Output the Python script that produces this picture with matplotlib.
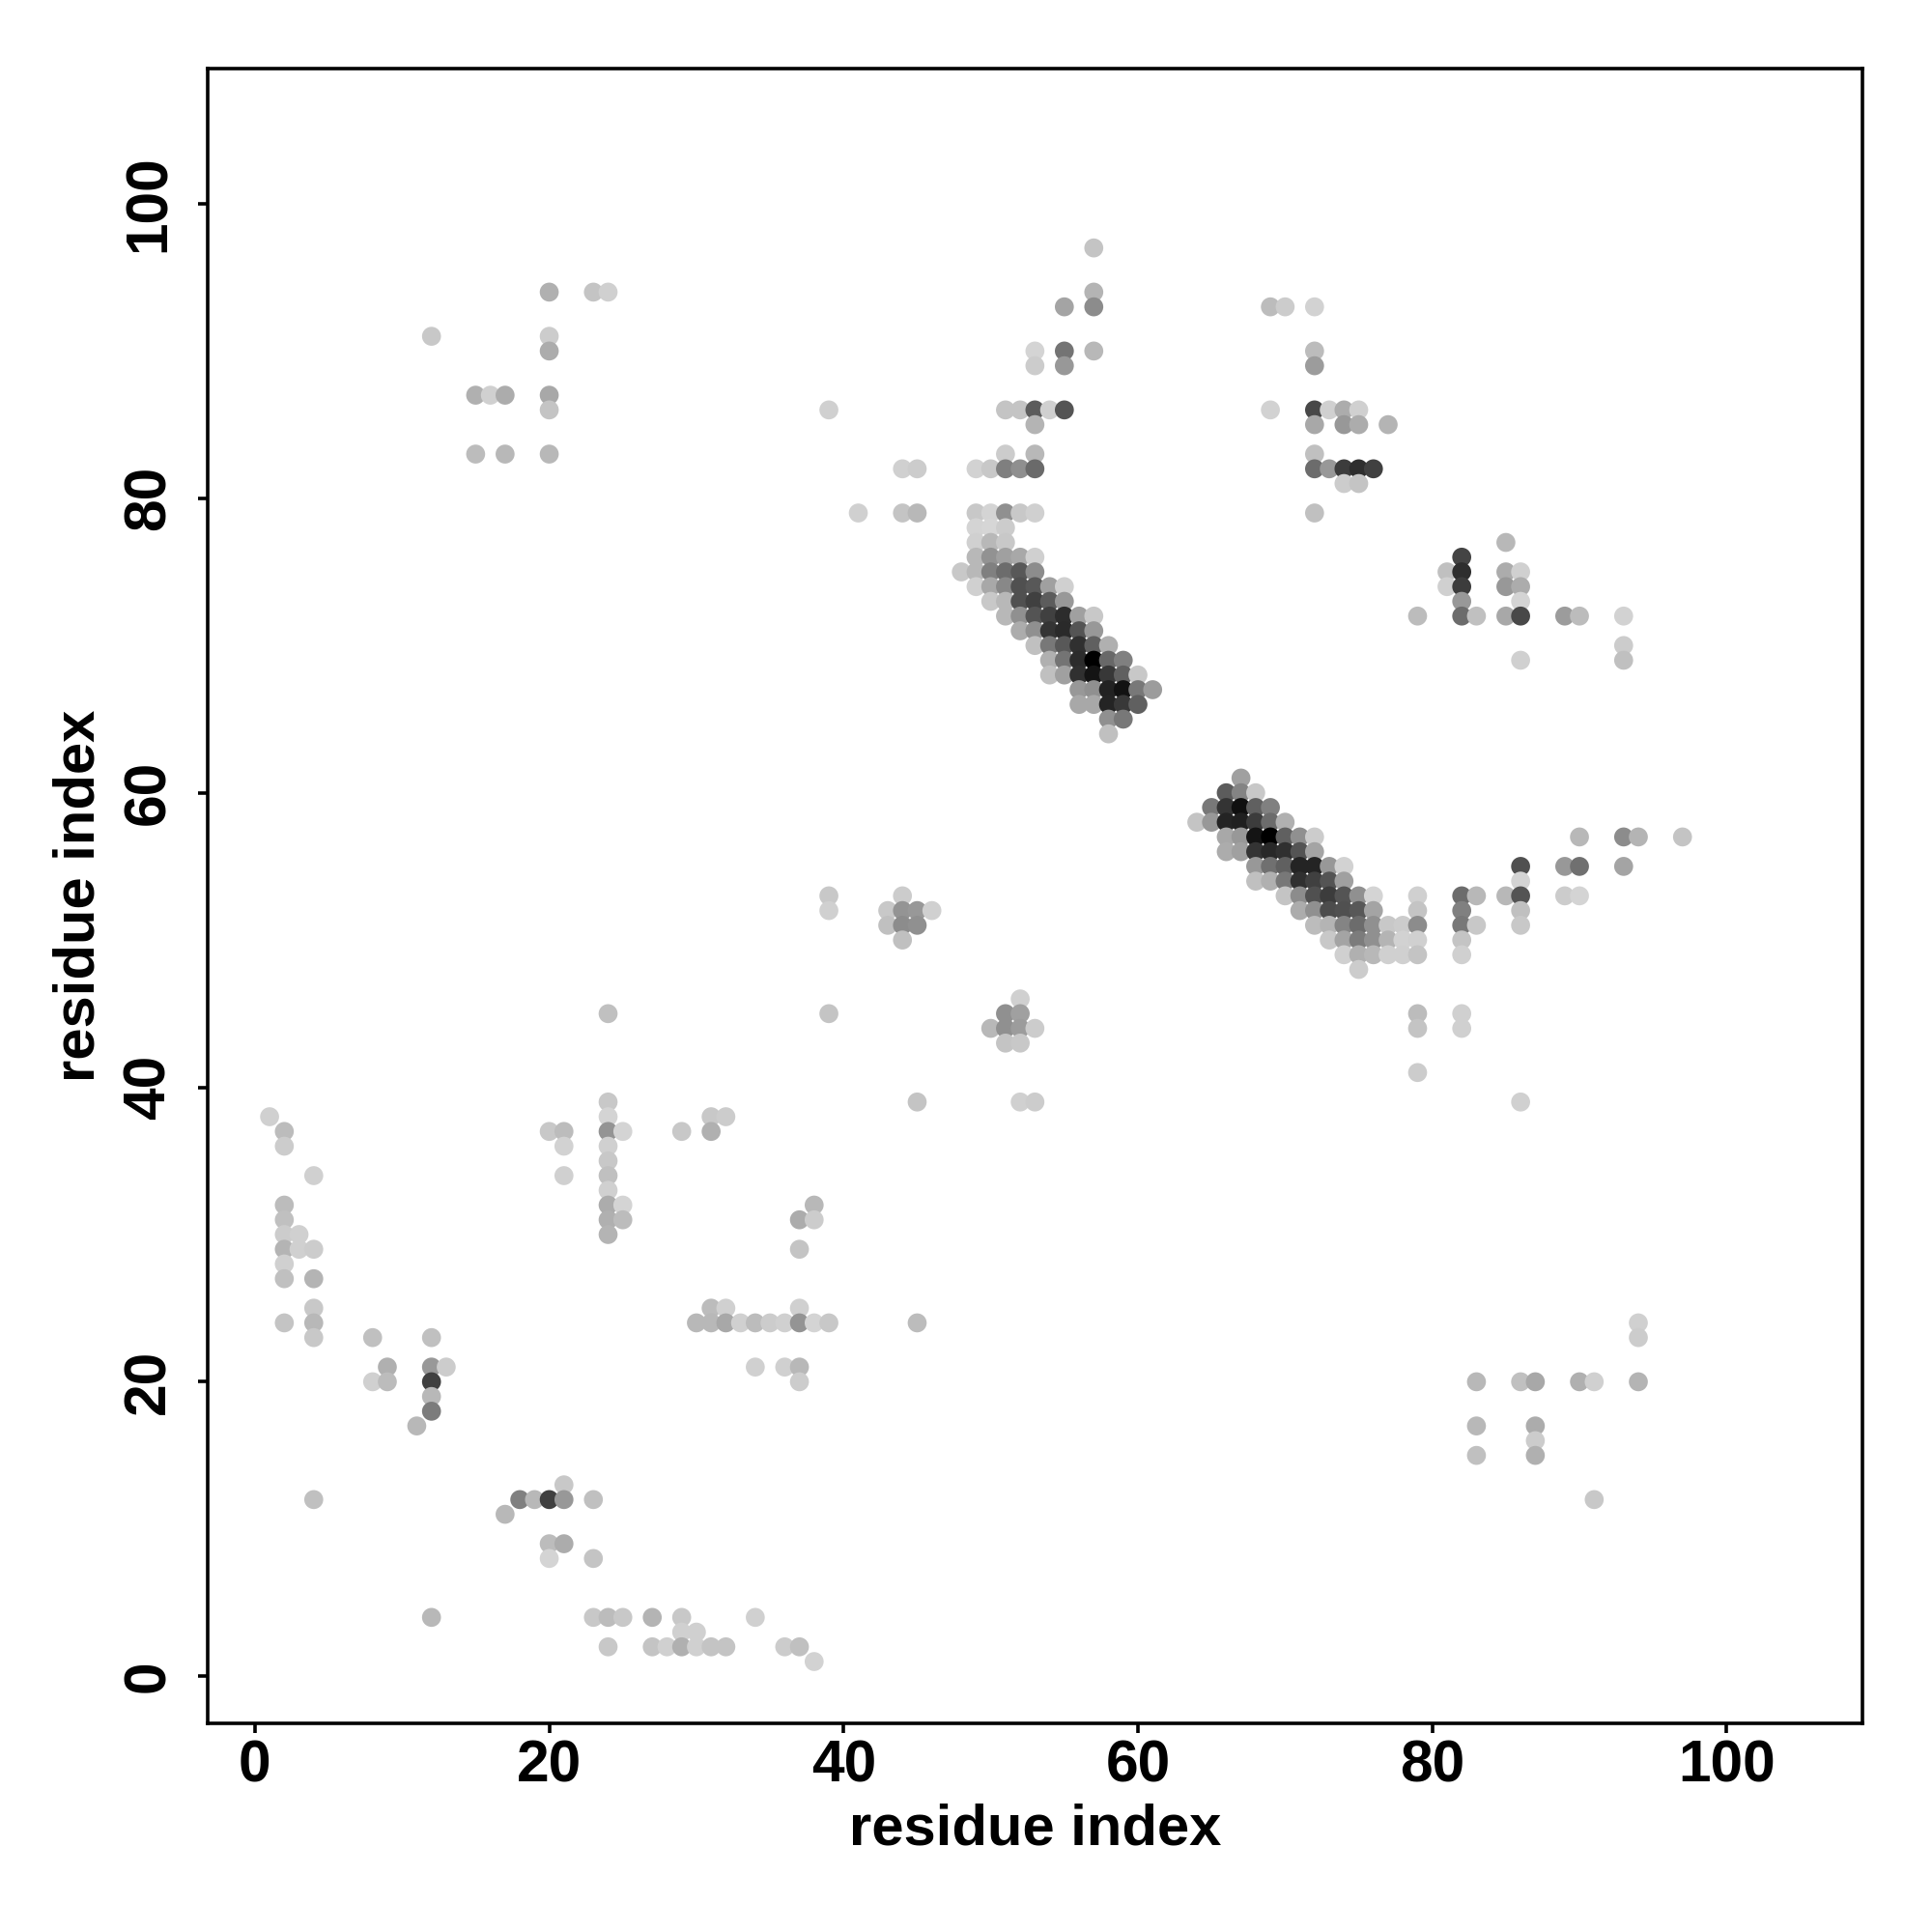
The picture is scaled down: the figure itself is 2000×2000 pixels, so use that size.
import numpy as np
import matplotlib
matplotlib.use('Agg')
import matplotlib.pyplot as plt

tick_values = [0, 20, 40, 60, 80, 100]
axis_label = 'residue index'

# one entry per row of the contact map, top to bottom
row_index = [97, 94, 93, 91, 90, 89, 87, 86, 85, 83, 82, 81, 79, 78, 77, 76, 75, 74, 73, 72,
             71, 70, 69, 68, 67, 66, 65, 64, 61, 60, 59, 58, 57, 56, 55, 54, 53, 52, 51, 50,
             49, 48, 46, 45, 44, 43, 41, 39, 38, 37, 36, 35, 34, 33, 32, 31, 30, 29, 28, 27,
             25, 24, 23, 21, 20, 19, 18, 17, 16, 15, 13, 12, 11, 9, 8, 4, 3, 2, 1]

col_index = [
    [57],
    [20, 23, 24, 57],
    [55, 57, 69, 70, 72],
    [12, 20],
    [20, 53, 55, 57, 72],
    [53, 55, 72],
    [15, 16, 17, 20],
    [20, 39, 51, 52, 53, 54, 55, 69, 72, 73, 74, 75],
    [53, 72, 74, 75, 77],
    [15, 17, 20, 51, 53, 72],
    [44, 45, 49, 50, 51, 52, 53, 72, 73, 74, 75, 76],
    [74, 75],
    [41, 44, 45, 49, 50, 51, 52, 53, 72],
    [49, 50, 51],
    [49, 50, 51, 85],
    [49, 50, 51, 52, 53, 82],
    [48, 49, 50, 51, 52, 53, 81, 82, 85, 86],
    [49, 50, 51, 52, 53, 54, 55, 81, 82, 85, 86],
    [50, 51, 52, 53, 54, 55, 82, 86],
    [51, 52, 53, 54, 55, 56, 57, 79, 82, 83, 85, 86, 89, 90, 93],
    [52, 53, 54, 55, 56, 57],
    [53, 54, 55, 56, 57, 58, 93],
    [54, 55, 56, 57, 58, 59, 86, 93],
    [54, 55, 56, 57, 58, 59, 60],
    [56, 57, 58, 59, 60, 61],
    [56, 57, 58, 59, 60],
    [58, 59],
    [58],
    [67],
    [66, 67, 68],
    [65, 66, 67, 68, 69],
    [64, 65, 66, 67, 68, 69, 70],
    [66, 67, 68, 69, 70, 71, 72, 90, 93, 94, 97],
    [66, 67, 68, 69, 70, 71, 72],
    [68, 69, 70, 71, 72, 73, 74, 86, 89, 90, 93],
    [68, 69, 70, 71, 72, 73, 74, 86],
    [39, 44, 70, 71, 72, 73, 74, 75, 76, 79, 82, 83, 85, 86, 89, 90],
    [39, 43, 44, 45, 46, 71, 72, 73, 74, 75, 76, 79, 82, 86],
    [43, 44, 45, 72, 73, 74, 75, 76, 77, 78, 79, 82, 83, 86],
    [44, 73, 74, 75, 76, 77, 78, 79, 82],
    [74, 75, 76, 77, 78, 79, 82],
    [75],
    [52],
    [24, 39, 51, 52, 79, 82],
    [50, 51, 52, 53, 79, 82],
    [51, 52],
    [79],
    [24, 45, 52, 53, 86],
    [1, 24, 31, 32],
    [2, 20, 21, 24, 25, 29, 31],
    [2, 21, 24],
    [24],
    [4, 21, 24],
    [24],
    [2, 24, 25, 38],
    [2, 24, 25, 37, 38],
    [2, 3, 24],
    [2, 3, 4, 37],
    [2],
    [2, 4],
    [4, 31, 32, 37],
    [2, 4, 30, 31, 32, 33, 34, 35, 36, 37, 38, 39, 45, 94],
    [4, 8, 12, 94],
    [9, 12, 13, 34, 36, 37],
    [8, 9, 12, 37, 83, 86, 87, 90, 91, 94],
    [12],
    [12],
    [11, 83, 87],
    [87],
    [83, 87],
    [21],
    [4, 18, 19, 20, 21, 23, 91],
    [17],
    [20, 21],
    [20, 23],
    [12, 23, 24, 25, 27, 29, 34],
    [29, 30],
    [24, 27, 28, 29, 30, 31, 32, 36, 37],
    [38],
]

# grey level of every point, 0 black to 255 white
grey_level = [
    [0xc4],
    [0xb0, 0xc4, 0xd0, 0xb4],
    [0xa4, 0x8c, 0xbc, 0xcc, 0xd2],
    [0xc8, 0xcc],
    [0xac, 0xd4, 0x74, 0xb8, 0xbc],
    [0xcc, 0x98, 0x9c],
    [0xb0, 0xd0, 0xac, 0xa8],
    [0xc4, 0xd0, 0xc4, 0xc4, 0x5c, 0xd0, 0x54, 0xd2, 0x48, 0xd0, 0xac, 0xd0],
    [0xb4, 0xa8, 0x98, 0xac, 0xb4],
    [0xbc, 0xb8, 0xb8, 0xcc, 0xb8, 0xc0],
    [0xd0, 0xcc, 0xd2, 0xc8, 0x7f, 0x8f, 0x6a, 0x6c, 0x98, 0x3c, 0x2e, 0x40],
    [0xcc, 0xc4],
    [0xd0, 0xc4, 0xb8, 0xc8, 0xd4, 0x90, 0xc8, 0xd0, 0xc0],
    [0xd4, 0xd6, 0xcc],
    [0xd0, 0xb8, 0xc8, 0xb8],
    [0xb8, 0x92, 0xa0, 0xa8, 0xd0, 0x44],
    [0xc8, 0xb8, 0x80, 0x6c, 0x58, 0x8c, 0xc0, 0x2e, 0xac, 0xd0],
    [0xd0, 0xa8, 0x88, 0x50, 0x58, 0xa0, 0xd0, 0xd0, 0x3c, 0x98, 0xac],
    [0xc8, 0xb8, 0x50, 0x40, 0x5c, 0x98, 0x98, 0xd4],
    [0xb8, 0x90, 0x54, 0x40, 0x2c, 0xa0, 0xc8, 0xbc, 0x6c, 0xc0, 0xa8, 0x48, 0x9c, 0xbc, 0xd2],
    [0xac, 0x90, 0x34, 0x2a, 0x54, 0x98],
    [0xc0, 0x78, 0x58, 0x30, 0x60, 0xb0, 0xcc],
    [0xb0, 0x74, 0x2c, 0x00, 0x68, 0x80, 0xd0, 0xc0],
    [0xc0, 0xa0, 0x30, 0x14, 0x38, 0x60, 0xc8],
    [0x98, 0x90, 0x22, 0x12, 0x78, 0x9c],
    [0xa8, 0xa8, 0x24, 0x38, 0x60],
    [0x90, 0x78],
    [0xc0],
    [0xa0],
    [0x5c, 0x84, 0xc8],
    [0x78, 0x34, 0x10, 0x60, 0x80],
    [0xc4, 0x98, 0x24, 0x20, 0x3c, 0x6c, 0xb0],
    [0xa8, 0x98, 0x14, 0x00, 0x60, 0x90, 0xcc, 0xb8, 0x8c, 0xb4, 0xc4],
    [0xac, 0xa0, 0x34, 0x28, 0x30, 0x54, 0xa4],
    [0x98, 0x70, 0x60, 0x24, 0x24, 0x98, 0xd2, 0x50, 0x98, 0x70, 0xa4],
    [0xc0, 0xb0, 0x78, 0x30, 0x40, 0x54, 0xa0, 0xd4],
    [0xc8, 0xcc, 0xc4, 0x8c, 0x50, 0x3c, 0x54, 0x90, 0xd4, 0xd0, 0x6c, 0xb8, 0xb8, 0x54, 0xcc, 0xd4],
    [0xd0, 0xc8, 0x94, 0x98, 0xd0, 0xac, 0x90, 0x4c, 0x50, 0x58, 0xa4, 0xc4, 0x80, 0xc0],
    [0xc0, 0x8c, 0x90, 0xbc, 0xb4, 0x84, 0x6c, 0x90, 0xc8, 0xcc, 0x8c, 0x78, 0xc8, 0xc8],
    [0xc0, 0xc8, 0xa4, 0x7c, 0x90, 0xb4, 0xd2, 0xd0, 0xc4],
    [0xd0, 0xb0, 0xb8, 0xd0, 0xd0, 0xc4, 0xd0],
    [0xcc],
    [0xd0],
    [0xc0, 0xc4, 0x90, 0xa0, 0xbc, 0xd0],
    [0xb8, 0x90, 0x9c, 0xcc, 0xc4, 0xd0],
    [0xc4, 0xc8],
    [0xcc],
    [0xc8, 0xc4, 0xd0, 0xcc, 0xd0],
    [0xd0, 0xd4, 0xc8, 0xcc],
    [0xbc, 0xc8, 0xbc, 0x94, 0xd4, 0xc8, 0xb0],
    [0xcc, 0xd2, 0xd0],
    [0xc8],
    [0xd0, 0xd0, 0xc0],
    [0xd0],
    [0xbc, 0xac, 0xd4, 0xb8],
    [0xc0, 0xb0, 0xbc, 0xac, 0xcc],
    [0xcc, 0xd0, 0xb4],
    [0xb4, 0xd0, 0xcc, 0xc4],
    [0xd0],
    [0xc0, 0xb4],
    [0xc8, 0xbc, 0xd0, 0xd0],
    [0xc4, 0xb8, 0xb8, 0xb8, 0xa8, 0xd0, 0xbc, 0xcc, 0xd0, 0x94, 0xd4, 0xc8, 0xbc, 0xd0],
    [0xc8, 0xc0, 0xc0, 0xcc],
    [0xb0, 0x98, 0xcc, 0xd0, 0xd0, 0xb8],
    [0xd0, 0xbc, 0x40, 0xcc, 0xb8, 0xc0, 0xa8, 0xb0, 0xd0, 0xb4],
    [0xb8],
    [0x7c],
    [0xb8, 0xb8, 0xac],
    [0xcc],
    [0xc0, 0xb0],
    [0xc8],
    [0xc0, 0x80, 0xb8, 0x40, 0x98, 0xc0, 0xc8],
    [0xb8],
    [0xbc, 0xac],
    [0xd4, 0xc4],
    [0xb8, 0xc8, 0xbc, 0xc8, 0xb4, 0xc8, 0xd0],
    [0xd0, 0xd0],
    [0xc8, 0xc4, 0xd0, 0xb0, 0xd0, 0xc4, 0xc4, 0xcc, 0xc0],
    [0xd2],
]

xs, ys, greys = [], [], []
for row, cols, levels in zip(row_index, col_index, grey_level):
    assert len(cols) == len(levels), row
    xs.extend(cols)
    ys.extend([row] * len(cols))
    greys.extend(levels)
greys = np.array(greys) / 255.0

plt.rcParams['font.family'] = ['Liberation Sans', 'DejaVu Sans']
plt.rcParams['font.weight'] = 'bold'

fig = plt.figure(figsize=(10, 10), dpi=200)
ax = fig.add_axes([0.1077, 0.1082, 0.8561, 0.8563])

ax.scatter(xs, ys, s=50, c=np.column_stack([greys, greys, greys]), linewidths=0)

ax.set_xlim(-3.18, 109.2)
ax.set_ylim(-3.17, 109.18)
ax.set_xticks(tick_values)
ax.set_yticks(tick_values)
ax.tick_params(axis='both', length=3.5, width=1.3, labelsize=21.8)
ax.tick_params(axis='x', pad=2.5)
ax.tick_params(axis='y', pad=8.0)
plt.setp(ax.get_yticklabels(), rotation=90, va='center')
ax.set_xlabel(axis_label, fontsize=21.5, fontweight='bold', labelpad=3.5)
ax.set_ylabel(axis_label, fontsize=21.5, fontweight='bold', labelpad=6)
for spine in ax.spines.values():
    spine.set_linewidth(1.3)

fig.savefig('out.png', dpi=200, facecolor='white')
